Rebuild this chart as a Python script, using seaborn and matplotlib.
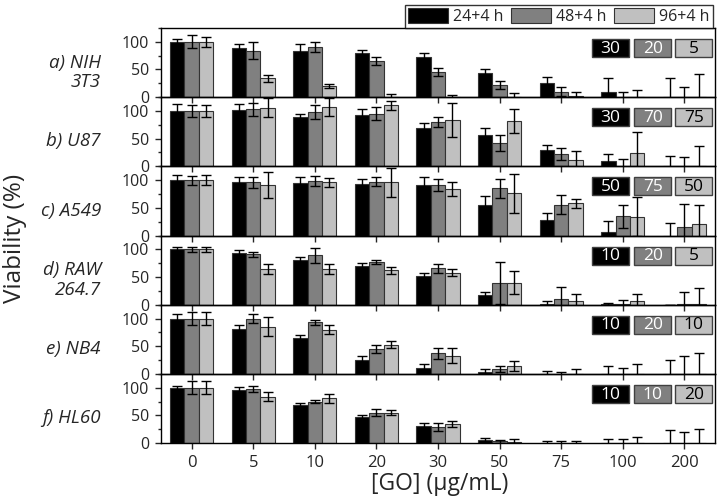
import numpy as np
import pandas as pd
import matplotlib
matplotlib.use('Agg')
import matplotlib.pyplot as plt
from matplotlib.patches import Patch, Rectangle
from matplotlib.ticker import MultipleLocator
import seaborn as sns

concs = ['0', '5', '10', '20', '30', '50', '75', '100', '200']
times = ['24+4 h', '48+4 h', '96+4 h']
colors = ['#000000', '#808080', '#c0c0c0']

# rows: 24+4 h, 48+4 h, 96+4 h
nih = [[100, 88, 84, 80, 73, 44, 25, 10, 0],
       [100, 84, 91, 65, 46, 22, 10, 0, 0],
       [100, 34, 20, 1, 0, 0, 2, 0, 0]]
nih_err = [[5, 8, 12, 5, 6, 7, 11, 25, 35],
           [12, 16, 9, 7, 7, 8, 8, 9, 18],
           [9, 6, 3, 5, 4, 8, 8, 13, 41]]

u87 = [[100, 102, 89, 93, 69, 56, 29, 9, 0],
       [100, 103, 98, 95, 80, 42, 23, 0, 0],
       [100, 106, 107, 110, 84, 82, 11, 24, 0]]
u87_err = [[12, 11, 5, 11, 10, 14, 10, 14, 19],
           [11, 12, 13, 12, 9, 14, 11, 13, 16],
           [11, 17, 16, 8, 31, 22, 17, 38, 37]]

a549 = [[100, 97, 94, 93, 92, 56, 28, 7, 0],
        [100, 96, 99, 97, 91, 85, 56, 35, 15],
        [100, 91, 96, 96, 84, 76, 58, 34, 21]]
a549_err = [[10, 8, 11, 10, 13, 15, 13, 20, 23],
            [8, 10, 9, 8, 11, 17, 17, 21, 42],
            [9, 24, 8, 26, 13, 35, 8, 35, 34]]

raw = [[100, 93, 80, 70, 52, 18, 2, 1, 0],
       [100, 91, 89, 77, 66, 40, 11, 1, 1],
       [100, 65, 65, 62, 58, 40, 6, 7, 2]]
raw_err = [[4, 5, 6, 6, 5, 5, 4, 2, 0],
           [5, 4, 13, 4, 8, 38, 21, 8, 22],
           [4, 9, 9, 7, 6, 21, 14, 12, 28]]

nb4 = [[100, 82, 65, 25, 10, 3, 0, 0, 0],
       [100, 100, 93, 45, 37, 9, 0, 0, 0],
       [100, 85, 80, 53, 33, 14, 0, 0, 0]]
nb4_err = [[9, 7, 6, 7, 8, 5, 5, 14, 25],
           [12, 8, 4, 7, 10, 6, 4, 10, 32],
           [11, 17, 8, 7, 13, 9, 8, 18, 38]]

hl60 = [[100, 96, 69, 47, 31, 5, 0, 0, 0],
        [100, 98, 75, 55, 29, 3, 0, 0, 0],
        [100, 84, 81, 55, 35, 2, 1, 0, 0]]
hl60_err = [[4, 6, 4, 3, 6, 5, 4, 8, 23],
            [12, 5, 3, 6, 7, 3, 3, 8, 20],
            [12, 8, 8, 5, 5, 5, 3, 11, 26]]

panel_labels = ['a) NIH\n3T3', 'b) U87', 'c) A549', 'd) RAW\n264.7', 'e) NB4', 'f) HL60']
box_values = [[30, 20, 5], [30, 70, 75], [50, 75, 50],
              [10, 20, 5], [10, 20, 10], [10, 10, 20]]

panels = [(nih, nih_err), (u87, u87_err), (a549, a549_err),
          (raw, raw_err), (nb4, nb4_err), (hl60, hl60_err)]

sns.set_style('ticks')
plt.rcParams['font.family'] = ['Open Sans', 'DejaVu Sans']

fig, axes = plt.subplots(6, 1, figsize=(7.18, 4.99), dpi=100, sharex=True)
fig.subplots_adjust(left=0.224, right=0.996, top=0.944, bottom=0.112, hspace=0)

for k, ax in enumerate(axes):
    means, errs = panels[k]
    rows = []
    for j, t in enumerate(times):
        for i, c in enumerate(concs):
            rows.append({'conc': c, 'time': t, 'value': means[j][i]})
    df = pd.DataFrame(rows)

    sns.barplot(data=df, x='conc', y='value', hue='time', order=concs,
                hue_order=times, palette=colors, width=0.7, errorbar=None,
                edgecolor='#333333', linewidth=0.8, legend=False, ax=ax)

    bar_groups = list(ax.containers)
    for j, cont in enumerate(bar_groups):
        xs = [p.get_x() + p.get_width() / 2 for p in cont.patches]
        hs = [p.get_height() for p in cont.patches]
        ax.errorbar(xs, hs, yerr=errs[j], fmt='none', ecolor='black',
                    elinewidth=1, capsize=3.5, capthick=1, zorder=5)

    ax.set_ylim(0, 125)
    ax.set_xlim(-0.5, 8.5)
    ax.yaxis.set_major_locator(MultipleLocator(50))
    ax.yaxis.set_minor_locator(MultipleLocator(25))
    ax.tick_params(axis='y', which='major', direction='out', length=4.5,
                   width=1, labelsize=11.5, pad=4)
    ax.tick_params(axis='y', which='minor', direction='out', length=2.5, width=1)
    ax.tick_params(axis='x', direction='out', length=4.5, width=1,
                   labelsize=12, pad=4)
    ax.set_xlabel('')
    ax.set_ylabel('')
    for s in ax.spines.values():
        s.set_visible(True)
        s.set_linewidth(1)
        s.set_color('black')
    ax.patch.set_visible(False)

    ax.text(-0.108, 45, panel_labels[k], transform=ax.get_yaxis_transform(),
            ha='right', va='center', fontsize=13.5, style='italic', linespacing=1.1)

    box_x = [0.778, 0.854, 0.928]
    for j in range(3):
        ax.add_patch(Rectangle((box_x[j], 0.58), 0.0668, 0.26, transform=ax.transAxes,
                               facecolor=colors[j], edgecolor='#404040', linewidth=1,
                               zorder=6, clip_on=False))
        ax.text(box_x[j] + 0.0334, 0.70, str(box_values[k][j]), transform=ax.transAxes,
                ha='center', va='center', fontsize=12.5, zorder=7,
                color='white' if j < 2 else 'black')

fig.text(0.021, 0.522, 'Viability (%)', rotation=90, ha='center', va='center', fontsize=17.5)
fig.text(0.613, 0.03, '[GO] (µg/mL)', ha='center', va='center', fontsize=16.5)

handles = [Patch(facecolor=c, edgecolor='#333333', linewidth=0.8) for c in colors]
leg = fig.legend(handles, times, loc='lower right', bbox_to_anchor=(0.993, 0.944),
                 ncol=3, frameon=True, fancybox=False, edgecolor='black',
                 handlelength=2.5, handleheight=1.05, handletextpad=0.35,
                 columnspacing=0.45, borderpad=0.2, borderaxespad=0, fontsize=11.5)
leg.get_frame().set_linewidth(1)

fig.savefig('out.png', dpi=100)
